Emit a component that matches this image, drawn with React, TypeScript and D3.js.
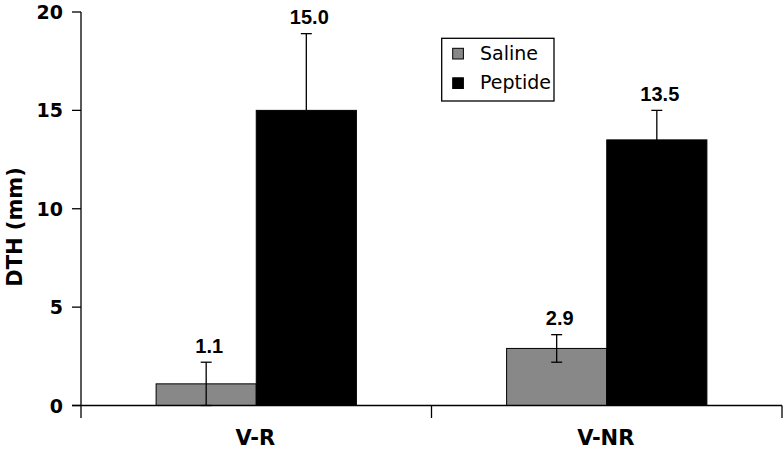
import React from "react";
import * as d3 from "d3";

const categories = ["V-R", "V-NR"];
const seriesNames = ["Saline", "Peptide"];
const salineValues = [1.1, 2.9];
const salineErrors = [1.1, 0.7];
const peptideValues = [15.0, 13.5];
const peptideErrors = [3.9, 1.5];
const yTicks = [0, 5, 10, 15, 20];
const seriesColors = ["#888888", "#000000"];

const W = 783;
const H = 451;
const FONT = "'DejaVu Sans', Verdana, sans-serif";
const FONT_VAL = "'Liberation Sans', Arial, Helvetica, sans-serif";

export default function App() {
  const y = d3.scaleLinear().domain([0, 20]).range([405.5, 12]);
  const x = d3.scaleBand<string>().domain(categories).range([81, 782]).padding(0);
  const xs = d3
    .scaleBand<string>()
    .domain(seriesNames)
    .range([0, x.bandwidth()])
    .paddingInner(0)
    .paddingOuter(0.75);

  const series = [
    { name: seriesNames[0], values: salineValues, errors: salineErrors, color: seriesColors[0] },
    { name: seriesNames[1], values: peptideValues, errors: peptideErrors, color: seriesColors[1] },
  ];

  const y0 = y(0);
  const capW = 11;

  return (
    <svg
      width={W}
      height={H}
      style={{ position: "absolute", left: 0, top: 0, background: "#fff" }}
      fontFamily={FONT}
    >
      <rect x={0} y={0} width={W} height={H} fill="#fff" />
      {/* bars */}
      {series.map((s) =>
        categories.map((c, i) => {
          const bx = (x(c) as number) + (xs(s.name) as number);
          const bw = xs.bandwidth();
          const v = s.values[i];
          const e = s.errors[i];
          const cx = bx + bw / 2;
          return (
            <g key={s.name + c}>
              <rect
                x={bx}
                y={y(v)}
                width={bw}
                height={y0 - y(v)}
                fill={s.color}
                stroke="#000"
                strokeWidth={1}
              />
              <line x1={cx} x2={cx} y1={y(v - e)} y2={y(v + e)} stroke="#000" strokeWidth={1.3} />
              <line x1={cx - capW / 2} x2={cx + capW / 2} y1={y(v + e)} y2={y(v + e)} stroke="#000" strokeWidth={1.3} />
              <line x1={cx - capW / 2} x2={cx + capW / 2} y1={y(v - e)} y2={y(v - e)} stroke="#000" strokeWidth={1.3} />
              <text
                x={cx + 3}
                y={y(v + e) - 9.5}
                textAnchor="middle"
                fontSize={20}
                fontWeight="bold"
                fontFamily={FONT_VAL}
              >
                {v.toFixed(1)}
              </text>
            </g>
          );
        })
      )}
      {/* y axis */}
      <line x1={81} x2={81} y1={y(20)} y2={418} stroke="#000" strokeWidth={1.3} />
      {yTicks.map((t) => (
        <g key={t}>
          <line x1={72} x2={81} y1={y(t)} y2={y(t)} stroke="#000" strokeWidth={1.3} />
          <text
            x={63}
            y={y(t) + 7}
            textAnchor="end"
            fontSize={19}
            fontWeight="bold"
          >
            {t}
          </text>
        </g>
      ))}
      {/* x axis */}
      <line x1={72} x2={782} y1={y0} y2={y0} stroke="#000" strokeWidth={1.3} />
      {categories.map((c) => (
        <line
          key={"t" + c}
          x1={(x(c) as number) + x.bandwidth()}
          x2={(x(c) as number) + x.bandwidth()}
          y1={y0}
          y2={418}
          stroke="#000"
          strokeWidth={1.3}
        />
      ))}
      {categories.map((c) => (
        <text
          key={"l" + c}
          x={(x(c) as number) + x.bandwidth() / 2 - 1}
          y={445}
          textAnchor="middle"
          fontSize={21}
          fontWeight="bold"
        >
          {c}
        </text>
      ))}
      {/* y title */}
      <text
        transform="translate(22,227) rotate(-90)"
        textAnchor="middle"
        fontSize={21}
        fontWeight="bold"
      >
        DTH (mm)
      </text>
      {/* legend */}
      <rect x={441.7} y={38.3} width={112.3} height={62.7} fill="#fff" stroke="#000" strokeWidth={1.3} />
      {series.map((s, i) => (
        <g key={"lg" + s.name} transform={`translate(452.7, ${48.3 + i * 29.5})`}>
          <rect x={0} y={0} width={10.7} height={10.7} fill={s.color} stroke="#000" strokeWidth={1} />
          <text x={27.3} y={11.5} fontSize={19}>
            {s.name}
          </text>
        </g>
      ))}
    </svg>
  );
}
